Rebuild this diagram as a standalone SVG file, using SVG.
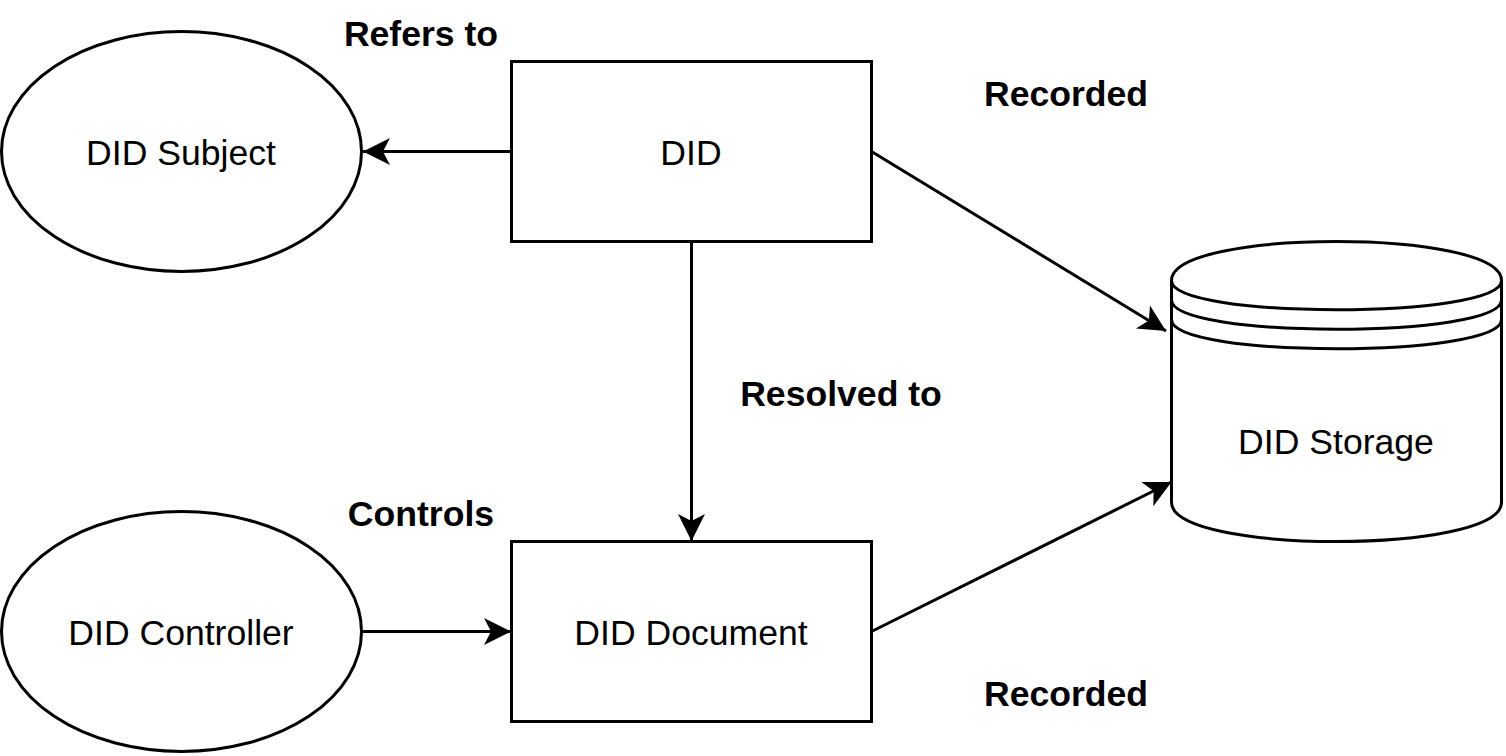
<svg xmlns="http://www.w3.org/2000/svg" width="1506" height="756" viewBox="0 0 1506 756">
<style>
.shape{fill:#fff;stroke:#000;stroke-width:3}
.edge{fill:none;stroke:#000;stroke-width:3}
.t{font-family:"Liberation Sans",Arial,sans-serif;font-size:35.6px;fill:#000;text-anchor:middle}
.b{font-weight:bold}
</style>
<defs>
<marker id="arr" markerUnits="userSpaceOnUse" markerWidth="32" markerHeight="32" viewBox="-30 -16 32 32" refX="0" refY="0" orient="auto">
<path d="M0,0 L-27,-13.5 L-20,0 L-27,13.5 Z" fill="#000" stroke="none"/>
</marker>
</defs>
<g id="edges">
<line class="edge" x1="511.5" y1="151.5" x2="363" y2="151.5" marker-end="url(#arr)"/>
<line class="edge" x1="691.5" y1="241.5" x2="691.5" y2="541" marker-end="url(#arr)"/>
<line class="edge" x1="361.5" y1="631.5" x2="511" y2="631.5" marker-end="url(#arr)"/>
<line class="edge" x1="871.5" y1="151.5" x2="1166" y2="331" marker-end="url(#arr)"/>
<line class="edge" x1="871.5" y1="631.5" x2="1171.5" y2="482" marker-end="url(#arr)"/>
</g>
<g id="subject">
<ellipse class="shape" cx="181.5" cy="151.5" rx="180" ry="120"/>
<text class="t" x="181" y="165">DID Subject</text>
</g>
<g id="did">
<rect class="shape" x="511.5" y="61.5" width="360" height="180"/>
<text class="t" x="691" y="165">DID</text>
</g>
<g id="controller">
<ellipse class="shape" cx="181.5" cy="631.5" rx="180" ry="120"/>
<text class="t" x="181" y="645">DID Controller</text>
</g>
<g id="document">
<rect class="shape" x="511.5" y="541.5" width="360" height="180"/>
<text class="t" x="691" y="645">DID Document</text>
</g>
<g id="storage">
<path class="shape" d="M1171.5,280.5 C1171.5,228.5 1501.5,228.5 1501.5,280.5 L1501.5,502.5 C1501.5,554.5 1171.5,554.5 1171.5,502.5 Z"/>
<path class="edge" d="M1171.5,280.5 C1171.5,319.5 1501.5,319.5 1501.5,280.5 M1171.5,300 C1171.5,339 1501.5,339 1501.5,300 M1171.5,319.5 C1171.5,358.5 1501.5,358.5 1501.5,319.5"/>
<text class="t" x="1336" y="454">DID Storage</text>
</g>
<g id="labels">
<text class="t b" x="421" y="46">Refers to</text>
<text class="t b" x="1066" y="106">Recorded</text>
<text class="t b" x="841" y="406">Resolved to</text>
<text class="t b" x="421" y="526">Controls</text>
<text class="t b" x="1066" y="706">Recorded</text>
</g>
</svg>
